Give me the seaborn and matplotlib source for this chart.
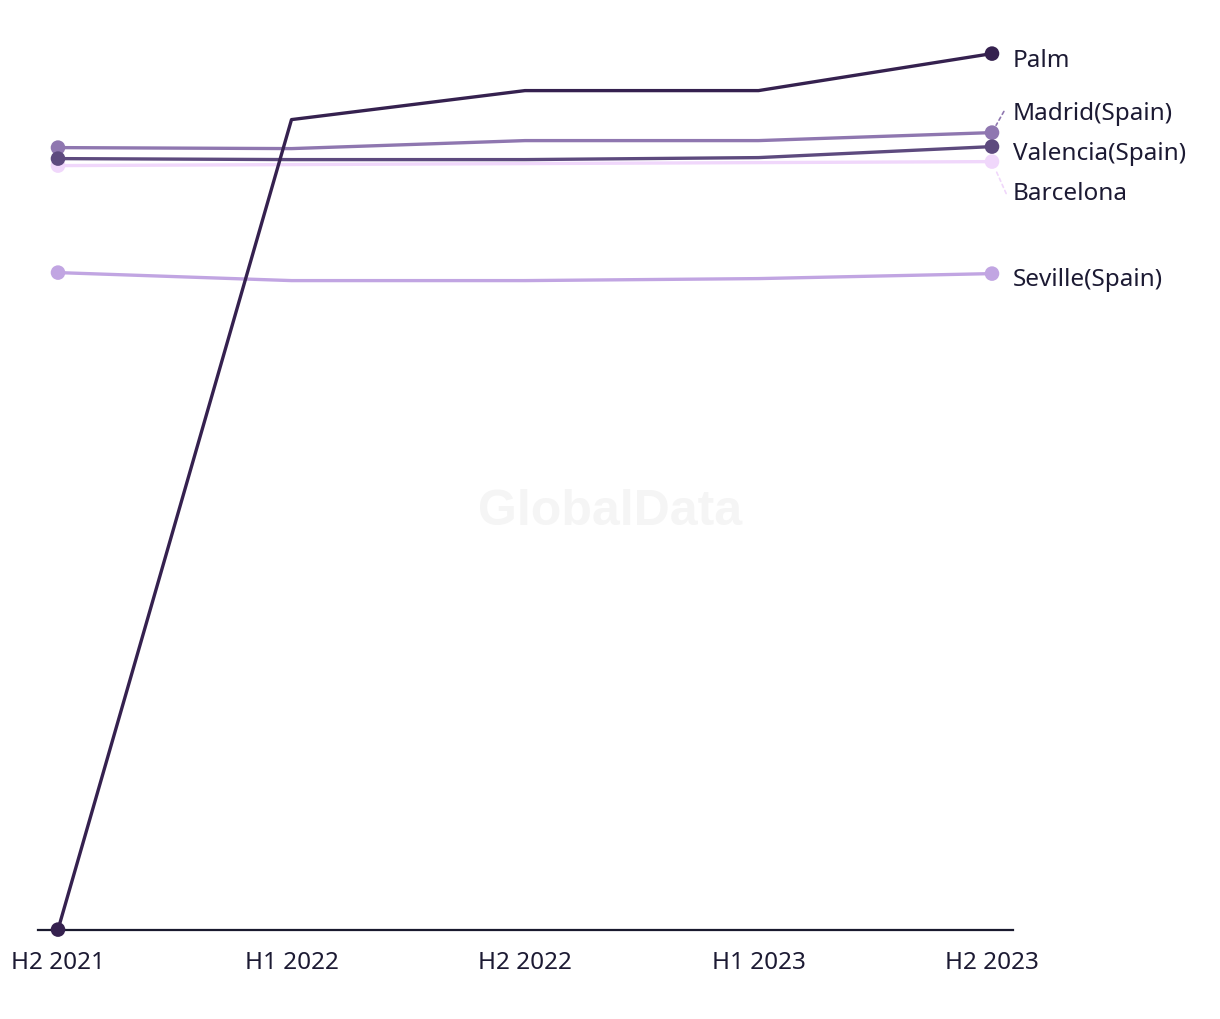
import matplotlib
matplotlib.use("Agg")
import matplotlib.pyplot as plt
import seaborn as sns
import pandas as pd

periods = ["H2 2021", "H1 2022", "H2 2022", "H1 2023", "H2 2023"]
palm = [0, 810, 839, 839, 876]
madrid = [782, 781, 789, 789, 797]
valencia = [771, 770, 770, 772, 783]
barcelona = [764, 765, 766, 767, 768]
seville = [657, 649, 649, 651, 656]

series = {
    "Barcelona": barcelona,
    "Seville(Spain)": seville,
    "Madrid(Spain)": madrid,
    "Valencia(Spain)": valencia,
    "Palm": palm,
}
colors = {
    "Palm": "#35214f",
    "Madrid(Spain)": "#8f77b0",
    "Valencia(Spain)": "#5d4a7e",
    "Barcelona": "#f0d7fb",
    "Seville(Spain)": "#c1a5e2",
}
# label vertical placement (layout only)
label_y = {
    "Palm": 870,
    "Madrid(Spain)": 817,
    "Valencia(Spain)": 777,
    "Barcelona": 737,
    "Seville(Spain)": 651,
}
connectors = {"Madrid(Spain)", "Barcelona"}

rows = []
for name, vals in series.items():
    for i, (p, v) in enumerate(zip(periods, vals)):
        rows.append({"series": name, "period": p, "x": i, "value": v})
df = pd.DataFrame(rows)

sns.set_theme(style="white")
plt.rcParams["font.family"] = ["Noto Sans", "DejaVu Sans"]

fig = plt.figure(figsize=(12.2, 10.2), dpi=100)
ax = fig.add_axes([38 / 1220, 1 - 930.6 / 1020, (1013 - 38) / 1220, 900 / 1020])

text_color = "#1c1a33"
fs = 17.5

for name in series:
    sub = df[df["series"] == name]
    sns.lineplot(data=sub, x="x", y="value", color=colors[name], linewidth=2.4,
                 ax=ax, legend=False, clip_on=False)
    ends = sub[sub["x"].isin([0, len(periods) - 1])]
    sns.scatterplot(data=ends, x="x", y="value", color=colors[name], s=110,
                    edgecolor="none", ax=ax, legend=False, clip_on=False, zorder=5)

ax.set_xlim(-20 / 233.5, 4 + 21 / 233.5)
ax.set_ylim(0, 900)

for name, vals in series.items():
    lx = 4 + 21 / 233.5
    if name in connectors:
        ax.annotate(name, xy=(4, vals[-1]), xytext=(lx, label_y[name]),
                    ha="left", va="center", fontsize=fs, color=text_color,
                    annotation_clip=False,
                    arrowprops=dict(arrowstyle="-", color=colors[name], lw=1.2,
                                    linestyle=(0, (2, 2)), shrinkA=4, shrinkB=6,
                                    relpos=(-0.04, 0.75 if name == "Madrid(Spain)" else 0.25)))
    else:
        ax.text(lx, label_y[name], name, ha="left", va="center",
                fontsize=fs, color=text_color, clip_on=False)

ax.text(0.5, 1 - 512 / 1020, "GlobalData", transform=fig.transFigure,
        ha="center", va="center", fontsize=36, fontweight="bold",
        family=["Liberation Sans", "DejaVu Sans"],
        color="#f5f5f5", zorder=0)

ax.set_xticks(range(len(periods)))
ax.set_xticklabels(periods, fontsize=fs, color=text_color)
ax.set_yticks([])
ax.set_xlabel("")
ax.set_ylabel("")
for s in ["top", "right", "left"]:
    ax.spines[s].set_visible(False)
ax.spines["bottom"].set_color("#1a1a2e")
ax.spines["bottom"].set_linewidth(1.6)
ax.tick_params(axis="x", length=0, pad=15)
ax.patch.set_alpha(0)

fig.savefig("out.png", dpi=100, facecolor="white")
